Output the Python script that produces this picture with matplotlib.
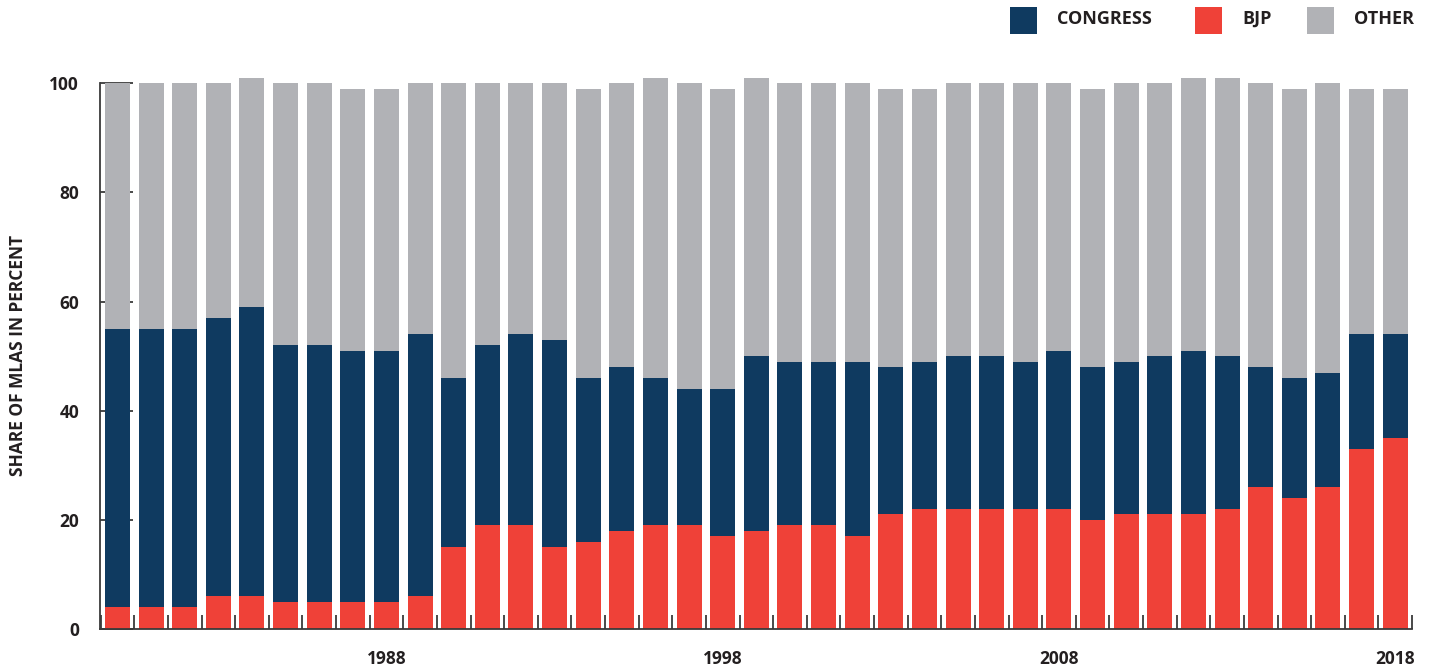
import matplotlib
matplotlib.use('Agg')
import matplotlib.pyplot as plt
from matplotlib.patches import Rectangle

# data (share of MLAs, percent)
years = list(range(1980, 2019))
bjp = [4, 4, 4, 6, 6, 5, 5, 5, 5, 6, 15, 19, 19, 15, 16, 18, 19, 19, 17, 18,
       19, 19, 17, 21, 22, 22, 22, 22, 22, 20, 21, 21, 21, 22, 26, 24, 26, 33, 35]
congress = [51, 51, 51, 51, 53, 47, 47, 46, 46, 48, 31, 33, 35, 38, 30, 30, 27, 25, 27, 32,
            30, 30, 32, 27, 27, 28, 28, 27, 29, 28, 28, 29, 30, 28, 22, 22, 21, 21, 19]
other = [45, 45, 45, 43, 42, 48, 48, 48, 48, 46, 54, 48, 46, 47, 53, 52, 55, 56, 55, 51,
         51, 51, 51, 51, 50, 50, 50, 51, 49, 51, 51, 50, 50, 51, 52, 53, 53, 45, 45]
labelled_years = [1988, 1998, 2008, 2018]
y_ticks = [0, 20, 40, 60, 80, 100]
series_names = ['CONGRESS', 'BJP', 'OTHER']

NAVY = '#0f3a60'
RED = '#ef4138'
GREY = '#b1b2b6'
TXT = '#231f20'

plt.rcParams['font.family'] = ['Open Sans', 'DejaVu Sans']

W, H = 1435, 672
fig = plt.figure(figsize=(W / 100, H / 100), dpi=100)
# axes box in pixels: x 100..1412, y(0)=629, y(101)=77.8
ax = fig.add_axes([100 / W, 43 / H, 1312 / W, (629 - 77.8) / H])

x = list(range(len(years)))
bottom2 = [a + b for a, b in zip(bjp, congress)]
ax.bar(x, bjp, width=0.743, color=RED, linewidth=0)
ax.bar(x, congress, width=0.743, bottom=bjp, color=NAVY, linewidth=0)
ax.bar(x, other, width=0.743, bottom=bottom2, color=GREY, linewidth=0)

ax.set_xlim(-0.52, len(years) - 0.51)
ax.set_ylim(0, 101)
ax.set_axisbelow(True)

for s in ['top', 'right']:
    ax.spines[s].set_visible(False)
ax.spines['left'].set_bounds(0, 100)
for s in ['left', 'bottom']:
    ax.spines[s].set_color('#3a3a3a')
    ax.spines[s].set_linewidth(1.3)

# y ticks run into the plot, behind the bars
ax.set_yticks(y_ticks)
ax.set_yticklabels([str(v) for v in y_ticks])
ax.tick_params(axis='y', direction='in', length=24, width=1.3, color='#3a3a3a',
               pad=15, labelsize=12.5, labelcolor=TXT)

# year labels under bars, small tick marks in the gaps
ax.set_xticks([years.index(y) for y in labelled_years])
ax.set_xticklabels([str(y) for y in labelled_years])
ax.set_xticks([i + 0.5 for i in range(-1, len(years))], minor=True)
ax.tick_params(axis='x', which='major', length=0, pad=15, labelsize=12.5, labelcolor=TXT)
ax.tick_params(axis='x', which='minor', direction='in', length=10, width=1.3, color='#3a3a3a')
for lab in ax.get_xticklabels() + ax.get_yticklabels():
    lab.set_fontweight('bold')

fig.text(18 / W, (H - 355) / H, 'SHARE OF MLAS IN PERCENT', rotation=90, fontsize=12.5,
         fontweight='bold', color=TXT, ha='center', va='center')

# legend at top right
leg_x = [1010, 1195, 1307]
for name, col, lx in zip(series_names, [NAVY, RED, GREY], leg_x):
    fig.add_artist(Rectangle((lx / W, (H - 34) / H), 27 / W, 27 / H,
                             transform=fig.transFigure, color=col, linewidth=0))
    fig.text((lx + 47) / W, (H - 19) / H, name, fontsize=13, fontweight='bold',
             color=TXT, va='center', ha='left')

fig.savefig('out.png', dpi=100)
